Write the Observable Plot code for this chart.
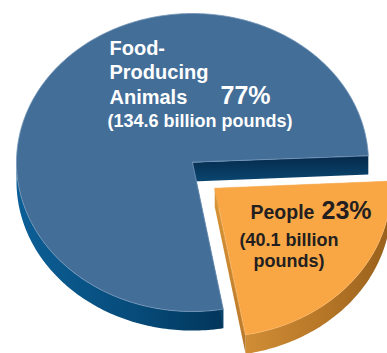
<!DOCTYPE html>
<html><head><meta charset="utf-8">
<script src="https://cdn.jsdelivr.net/npm/d3@7"></script>
<script src="https://cdn.jsdelivr.net/npm/@observablehq/plot@0.6"></script>
<style>html,body{margin:0;padding:0;background:#fff;overflow:hidden}</style>
</head><body><div id="chart"></div>
<script>
// ---- data ----
const categories = ["Food-Producing Animals", "People"];
const values = [134.6, 40.1];            // billion pounds
const unitLabel = "billion pounds";

// ---- layout ----
const W = 387, H = 353;
const startAngle = -2.7;          // degrees (screen, y down) where the People slice starts
const depth = 0.128;              // extrusion, in y units
const explode = [0.127, 0.172];   // People slice pulled out

const total = d3.sum(values);
const pct = d3.format(".0%");
const spanPeople = values[1] / total * 360;
const slices = [
  {id: 0, a0: startAngle + spanPeople, a1: startAngle + 360, off: [0, 0]},
  {id: 1, a0: startAngle, a1: startAngle + spanPeople, off: explode}
];
const rad = d => d * Math.PI / 180;
function arc(a0, a1, ox, oy, dz = 0) {
  const n = Math.max(2, Math.ceil(Math.abs(a1 - a0)));
  return d3.range(n + 1).map(i => {
    const t = rad(a0 + (a1 - a0) * i / n);
    return {x: ox + Math.cos(t), y: oy + Math.sin(t) + dz};
  });
}
function topFace(s, dz = 0) {
  const [ox, oy] = s.off;
  return [{x: ox, y: oy + dz}, ...arc(s.a0, s.a1, ox, oy, dz)];
}
function outerSides(s) {
  const [ox, oy] = s.off, out = [];
  for (const k of [-1, 0, 1]) {
    const lo = Math.max(s.a0, 360 * k), hi = Math.min(s.a1, 360 * k + 180);
    if (hi > lo) out.push([...arc(lo, hi, ox, oy), ...arc(hi, lo, ox, oy, depth)]);
  }
  return out;
}
function wall(s, a) {
  const [ox, oy] = s.off, t = rad(a);
  const ex = ox + Math.cos(t), ey = oy + Math.sin(t);
  return [{x: ox, y: oy}, {x: ex, y: ey}, {x: ex, y: ey + depth}, {x: ox, y: oy + depth}];
}
const tag = (pts, g) => pts.map(p => ({...p, g}));

// shadow silhouette of each slice (top face + extruded bottom face)
const shadowPolys = [];
slices.forEach((s, i) => {
  shadowPolys.push(...tag(topFace(s), `t${i}`));
  shadowPolys.push(...tag(topFace(s, depth), `b${i}`));
  outerSides(s).forEach((p, j) => shadowPolys.push(...tag(p, `s${i}${j}`)));
});

const sides = slices.map(s => outerSides(s).flatMap((p, j) => tag(p, j)));
const walls = slices.map(s => [...tag(wall(s, s.a0), 0), ...tag(wall(s, s.a1), 1)]);
const tops = slices.map(s => topFace(s));

const defs = () => {
  const d = d3.create("svg:defs");
  const lg = (id, x2, y2, stops) => {
    const g = d.append("linearGradient").attr("id", id)
      .attr("x1", 0).attr("y1", 0).attr("x2", x2).attr("y2", y2);
    stops.forEach(([o, c]) => g.append("stop").attr("offset", o).attr("stop-color", c));
  };
  lg("blueSide", 1, 0, [[0, "#0c5f97"], [0.6, "#064a78"], [1, "#02365b"]]);
  lg("blueWall", 0, 1, [[0, "#05294a"], [1, "#0a4670"]]);
  lg("orangeSide", 1, 0, [[0, "#d08d36"], [0.5, "#b87828"], [1, "#98601c"]]);
  lg("orangeWall", 0, 1, [[0, "#d99536"], [1, "#b8772a"]]);
  const f = d.append("filter").attr("id", "softShadow")
    .attr("x", "-30%").attr("y", "-30%").attr("width", "160%").attr("height", "160%");
  f.append("feGaussianBlur").attr("stdDeviation", 7);
  f.append("feComponentTransfer").append("feFuncA").attr("type", "linear").attr("slope", 0.62);
  return d.node();
};

const poly = (data, opts) => Plot.line(data, {x: "x", y: "y", z: "g", curve: "linear-closed", stroke: "none", ...opts});

const labelFont = "Liberation Sans, Arial, Helvetica, sans-serif";
const blueTitle = categories[0].replace("-", "-\n").replace(" ", "\n");
const amount = v => `(${v} ${unitLabel})`;

const chart = Plot.plot({
  width: W, height: H,
  margin: 0,
  x: {domain: [-1, 1], range: [16, 368], axis: null},
  y: {domain: [-1, 1], range: [13, 311], axis: null},
  style: {fontFamily: labelFont, background: "#fff"},
  marks: [
    defs,
    poly(shadowPolys, {fill: "#4a4a4a", dx: 8, dy: 7, ariaLabel: "shadow"}),
    // Food-producing animals
    poly(sides[0], {fill: "url(#blueSide)"}),
    poly(walls[0], {fill: "url(#blueWall)"}),
    poly(tops[0].map(p => ({...p, g: 0})), {fill: "#436e98", stroke: "#7396b9", strokeWidth: 0.8}),
    // People
    poly(sides[1], {fill: "url(#orangeSide)"}),
    poly(walls[1], {fill: "url(#orangeWall)"}),
    poly(tops[1].map(p => ({...p, g: 0})), {fill: "#f9a645", stroke: "#fbb868", strokeWidth: 0.6}),
    // labels
    Plot.text([blueTitle], {frameAnchor: "top-left", dx: 109, dy: 103.5, text: d => d, textAnchor: "start",
      lineAnchor: "bottom", lineHeight: 1.23, fontSize: 20, fontWeight: "bold", fill: "white"}),
    Plot.text([pct(values[0] / total)], {frameAnchor: "top-left", dx: 220, dy: 103.5, text: d => d, textAnchor: "start",
      lineAnchor: "bottom", fontSize: 25, fontWeight: "bold", fill: "white"}),
    Plot.text([amount(values[0])], {frameAnchor: "top-left", dx: 199.5, dy: 126.5, text: d => d, textAnchor: "middle",
      lineAnchor: "bottom", fontSize: 18, fontWeight: "bold", fill: "white"}),
    Plot.text([categories[1]], {frameAnchor: "top-left", dx: 250, dy: 218.5, text: d => d, textAnchor: "start",
      lineAnchor: "bottom", fontSize: 19.5, fontWeight: "bold", fill: "#231f20"}),
    Plot.text([pct(values[1] / total)], {frameAnchor: "top-left", dx: 321, dy: 218.5, text: d => d, textAnchor: "start",
      lineAnchor: "bottom", fontSize: 25, fontWeight: "bold", fill: "#231f20"}),
    Plot.text([`(${values[1]} billion\npounds)`], {frameAnchor: "top-left", dx: 288.5, dy: 266.5, text: d => d, textAnchor: "middle",
      lineAnchor: "bottom", lineHeight: 1.17, fontSize: 18, fontWeight: "bold", fill: "#231f20"})
  ]
});
// soften the shadow silhouette
const groups = chart.querySelectorAll(":scope > g");
const shadowG = chart.querySelector('g[aria-label="shadow"]') || groups[0];
if (shadowG) shadowG.setAttribute("filter", "url(#softShadow)");
document.getElementById("chart").append(chart);
</script>
</body></html>
